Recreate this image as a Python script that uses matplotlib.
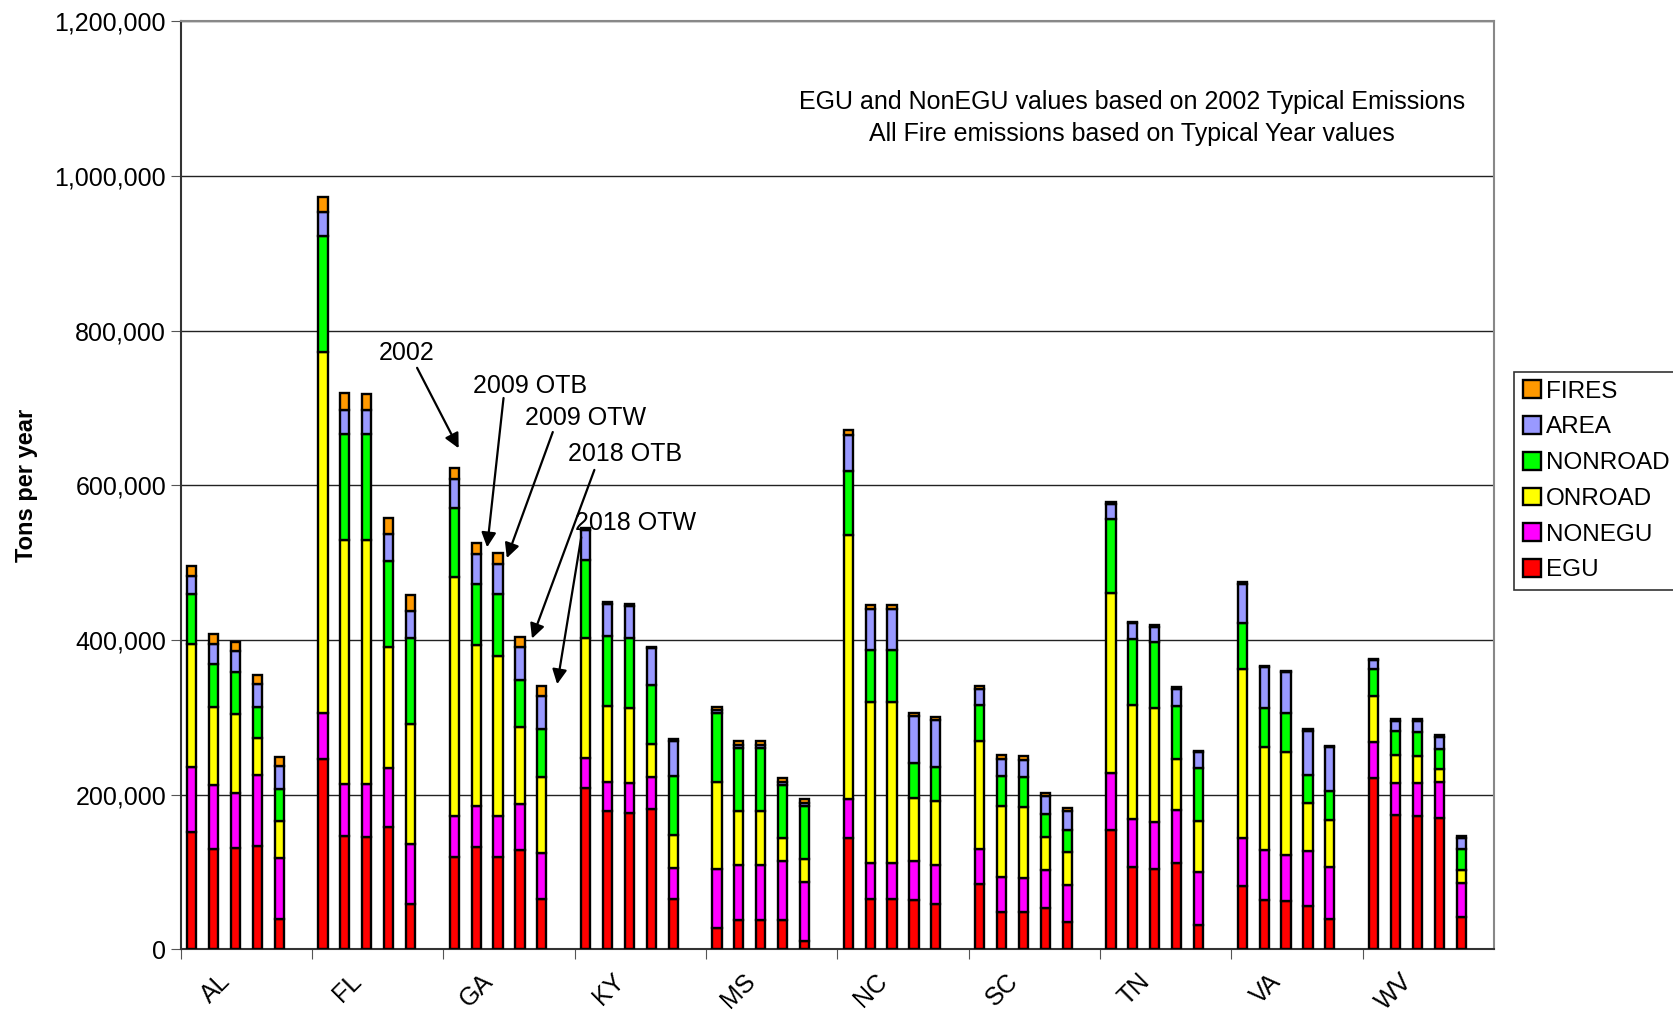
import matplotlib
matplotlib.use("Agg")
import matplotlib.pyplot as plt
import numpy as np
from matplotlib.ticker import FuncFormatter, FixedLocator

plt.rcParams['font.family'] = ['Liberation Sans', 'DejaVu Sans']

states = ["AL", "FL", "GA", "KY", "MS", "NC", "SC", "TN", "VA", "WV"]
scenarios = ["2002", "2009 OTB", "2009 OTW", "2018 OTB", "2018 OTW"]

# thousand tons per year, 5 scenarios per state
egu = [152, 130.5, 131.5, 134, 39.5,
       246, 147, 146, 158, 58.7,
       120, 132, 119, 129, 65.6,
       209, 179, 177, 181, 64.7,
       27.8, 38.4, 38.4, 37.6, 10.8,
       144.6, 65.7, 65.7, 63.5, 59,
       84, 49, 49, 54, 35.4,
       154, 107, 103.4, 111.6, 31,
       81.5, 63.4, 62, 56, 39.7,
       222, 173.5, 173, 170.6, 42]
nonegu = [84, 81.5, 70.5, 92, 79,
          60, 67, 68, 77, 77.3,
          53, 53, 53.5, 59, 59,
          39, 38, 38, 42.6, 41,
          76.2, 70.6, 70.6, 77, 76.2,
          49.4, 46.3, 46.3, 50.5, 50,
          45.6, 45, 43.4, 48.4, 47.6,
          73.5, 62, 61.2, 69, 69,
          62.5, 65.5, 60.4, 71, 66.8,
          46, 41.5, 42, 46, 44.5]
onroad = [159, 101, 102, 47, 47,
          466, 315.5, 315.5, 156.6, 155,
          308, 208, 207.5, 99, 99,
          155, 98, 97.6, 42.4, 42.3,
          112, 70, 70, 29.5, 29.6,
          341.8, 208.5, 208.5, 82, 83,
          140, 92, 92.1, 43.2, 43,
          233, 147.5, 148, 66, 65.5,
          219, 132.7, 132.6, 62, 61.5,
          59.6, 36.5, 35.7, 17, 16.3]
nonroad = [65, 56, 55, 41, 42.5,
           151, 136.5, 136.5, 111, 111.7,
           90, 79, 79.5, 61, 61,
           101, 90, 90, 76.5, 76.5,
           90, 82, 82, 68.5, 69.2,
           82.2, 66.1, 66.5, 45.5, 44,
           46.4, 38.6, 38.5, 28.9, 29,
           96, 85.5, 84.5, 68, 69,
           59, 50.4, 50.6, 37, 36.7,
           34.4, 30.5, 31, 26, 26.7]
area = [23, 26, 27, 29, 29,
        30, 32, 31, 35, 35.3,
        37, 39, 39, 42.5, 42.5,
        38.6, 42, 41.5, 47, 45.5,
        4, 3, 3, 4.5, 4.2,
        47.6, 54, 53.5, 60.5, 61,
        20.5, 21.4, 22, 23.5, 24,
        20, 20, 19.8, 22, 20.5,
        50.8, 53, 53, 57, 57,
        12.5, 14, 14, 14.5, 15]
fires = [13, 13, 12, 12, 12,
         20, 21, 21, 20.5, 20,
         14, 14, 13.5, 13.5, 13.6,
         2, 2, 2.5, 1.5, 2,
         4, 5, 5, 5, 5,
         5.4, 4.4, 4.8, 4, 4,
         4.5, 5, 5, 4.6, 3.7,
         1.5, 2, 2.2, 2.2, 2,
         1.7, 1.8, 1.7, 2, 1.7,
         1.5, 2, 2, 3, 2.4]

series = [("EGU", egu, "#FF0000"),
          ("NONEGU", nonegu, "#FF00FF"),
          ("ONROAD", onroad, "#FFFF00"),
          ("NONROAD", nonroad, "#00FF00"),
          ("AREA", area, "#9999FF"),
          ("FIRES", fires, "#FF9900")]

n_bars = len(scenarios)
slot = n_bars + 1
x = np.array([g * slot + j + 0.5 for g in range(len(states)) for j in range(n_bars)])

fig = plt.figure(figsize=(16.73, 10.16), dpi=100)
ax = fig.add_axes([0.108, 0.0655, 0.785, 0.9135])

bottom = np.zeros(len(x))
handles = []
for name, vals, col in series:
    v = np.array(vals) * 1000
    h = ax.bar(x, v, 0.42, bottom=bottom, color=col, edgecolor="black", linewidth=1.7,
               label=name, zorder=3)
    handles.append(h)
    bottom += v

ax.set_xlim(0, slot * len(states))
ax.set_ylim(0, 1200000)
ax.set_yticks(np.arange(0, 1200001, 200000))
ax.yaxis.set_major_formatter(FuncFormatter(lambda v, p: "{:,.0f}".format(v)))
ax.grid(axis="y", color="#222222", linewidth=1.0, zorder=0)

ax.xaxis.set_major_locator(FixedLocator([g * slot for g in range(len(states))]))
ax.set_xticklabels([])
ax.xaxis.set_minor_locator(FixedLocator([g * slot + 1.7 for g in range(len(states))]))
ax.set_xticklabels(states, minor=True, rotation=45, ha="right", rotation_mode="anchor")
ax.tick_params(axis="x", which="minor", length=0, pad=14, labelsize=18)
ax.tick_params(axis="x", which="major", length=7, direction="out", color="#555555")
ax.tick_params(axis="y", length=7, direction="out", labelsize=18, color="#555555")

for s in ["top", "right"]:
    ax.spines[s].set_color("#888888")
    ax.spines[s].set_linewidth(1.5)
for s in ["left", "bottom"]:
    ax.spines[s].set_color("#333333")
    ax.spines[s].set_linewidth(1.5)

ax.set_ylabel("Tons per year", fontsize=17, fontweight="bold", labelpad=12)

ax.text(0.7244, 0.913, "EGU and NonEGU values based on 2002 Typical Emissions",
        transform=ax.transAxes, ha="center", va="center", fontsize=18)
ax.text(0.7244, 0.879, "All Fire emissions based on Typical Year values",
        transform=ax.transAxes, ha="center", va="center", fontsize=18)

# scenario callouts pointing at the GA bars
notes = [("2002", (10.3, 771000), (10.8, 752000), (12.7, 648000)),
         ("2009 OTB", (15.95, 728000), (14.75, 713000), (14.0, 520000)),
         ("2009 OTW", (18.5, 687000), (17.0, 669000), (14.9, 506000)),
         ("2018 OTB", (20.3, 641000), (18.9, 620000), (16.05, 402000)),
         ("2018 OTW", (20.8, 552000), (18.3, 533000), (17.2, 343000))]
arrow = dict(arrowstyle="-|>", color="black", lw=1.6, mutation_scale=22,
             shrinkA=0, shrinkB=0)
for label, txt, tail, tip in notes:
    ax.text(txt[0], txt[1], label, ha="center", va="center", fontsize=18, zorder=6)
    ax.annotate("", xy=tip, xytext=tail, arrowprops=arrow, zorder=6)

leg = fig.legend(handles[::-1], [s[0] for s in series][::-1], loc="upper left",
                 bbox_to_anchor=(0.905, 0.634), fontsize=17.5, frameon=True, fancybox=False,
                 edgecolor="black", handlelength=0.75, handleheight=0.75, handletextpad=0.2,
                 labelspacing=0.55, borderpad=0.35, borderaxespad=0)
leg.get_frame().set_linewidth(1.2)

fig.savefig("out.png", dpi=100)
